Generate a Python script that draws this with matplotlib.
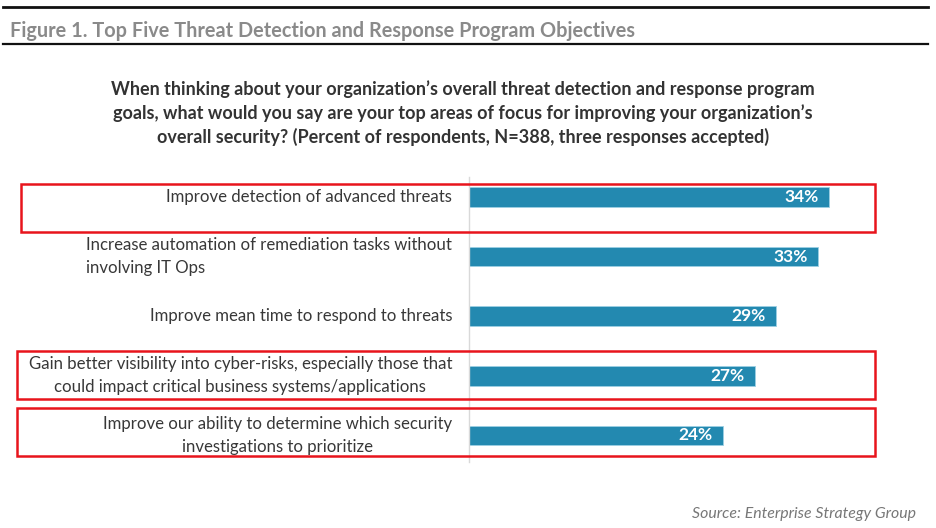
import matplotlib
matplotlib.use("Agg")
import matplotlib.pyplot as plt
from matplotlib.patches import Rectangle
from matplotlib.lines import Line2D

categories = [
    "Improve detection of advanced threats",
    "Increase automation of remediation tasks without\ninvolving IT Ops",
    "Improve mean time to respond to threats",
    "Gain better visibility into cyber-risks, especially those that\ncould impact critical business systems/applications",
    "Improve our ability to determine which security\ninvestigations to prioritize",
]
values = [34, 33, 29, 27, 24]
highlighted = [0, 3, 4]

fig_title = "Figure 1. Top Five Threat Detection and Response Program Objectives"
question = ("When thinking about your organization\u2019s overall threat detection and response program\n"
            "goals, what would you say are your top areas of focus for improving your organization\u2019s\n"
            "overall security? (Percent of respondents, N=388, three responses accepted)")
source = "Source: Enterprise Strategy Group"

W, H = 936, 528
plt.rcParams['font.family'] = ['Lato', 'DejaVu Sans']
fig = plt.figure(figsize=(W / 100, H / 100), dpi=100)

def fx(px):
    return px / W

def fy(py):
    return 1 - py / H

# axes: x from 469 px, 1% = 10.59 px; y centers at 197 + 59.6*i
ax_left, ax_right = 469, 469 + 10.59 * 40
ax_top, ax_bot = 197 - 29.8, 197 + 59.6 * 4 + 29.8
ax = fig.add_axes([fx(ax_left), fy(ax_bot), (ax_right - ax_left) / W, (ax_bot - ax_top) / H])
ax.set_xlim(0, 40)
ax.set_ylim(4.5, -0.5)

bar_color = "#2389B0"
ypos = list(range(len(categories)))
ax.barh(ypos, values, height=0.33, color=bar_color, edgecolor="#9cd0e4", linewidth=0.6)
for y, v in zip(ypos, values):
    ax.text(v - 1.0, y, f"{v}%", ha="right", va="center", color="white",
            fontsize=12.5, fontweight="bold")

for y, lab in zip(ypos, categories):
    malign = "left" if y == 1 else "center"
    ax.text(-1.6, y, lab, ha="right", va="center", color="#383838", fontsize=12.1,
            multialignment=malign, linespacing=1.55)

for s in ["top", "right", "bottom"]:
    ax.spines[s].set_visible(False)
ax.spines["left"].set_color("#d9d9d9")
ax.spines["left"].set_linewidth(1.0)
ax.spines["left"].set_bounds(4.45, -0.33)
ax.set_xticks([])
ax.set_yticks([])

# header lines and title
fig.add_artist(Line2D([fx(3), fx(928)], [fy(7), fy(7)], color="#111111", linewidth=2.0))
fig.add_artist(Line2D([fx(3), fx(928)], [fy(44), fy(44)], color="#111111", linewidth=1.6))
fig.text(fx(10), fy(31), fig_title, ha="left", va="center", color="#8a8a8a",
         fontsize=14.3, fontweight="bold")

fig.text(fx(463), fy(113), question, ha="center", va="center", color="#333333",
         fontsize=13, fontweight="bold", linespacing=1.42)

fig.text(fx(916), fy(514), source, ha="right", va="center", color="#777777",
         fontsize=11.4, style="italic")

# red highlight boxes
boxes = {0: (21, 184, 875, 232), 3: (17, 351, 875, 399), 4: (17, 408, 875, 456)}
for i in highlighted:
    x0, y0, x1, y1 = boxes[i]
    fig.add_artist(Rectangle((fx(x0), fy(y1)), fx(x1) - fx(x0), fy(y0) - fy(y1),
                             fill=False, edgecolor="#e8141c", linewidth=1.8))

fig.savefig("out.png", dpi=100)
